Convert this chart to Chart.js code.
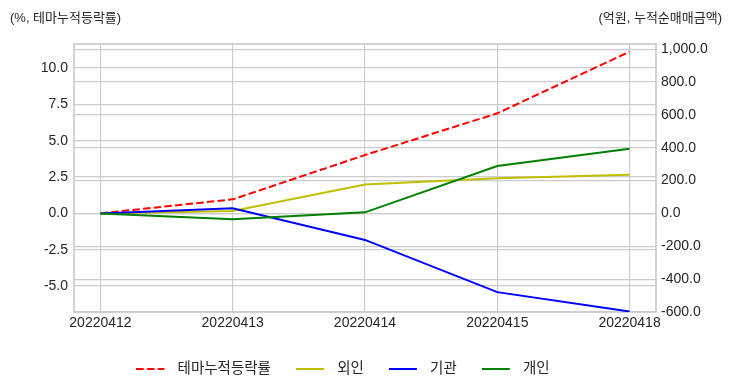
<!DOCTYPE html>
<html><head><meta charset="utf-8">
<script src="https://cdn.jsdelivr.net/npm/chart.js@4.4.0/dist/chart.umd.min.js"></script>
<style>
html,body{margin:0;padding:0;background:#fff;}
#wrap{position:relative;width:732px;height:392px;}
canvas{display:block;}
.hdr{position:absolute;top:7px;font-size:13px;font-family:'Liberation Sans','Noto Sans CJK KR',sans-serif;color:#262626;white-space:nowrap;}
</style></head><body>
<div id="wrap">
<canvas id="c" width="732" height="392"></canvas>
<div class="hdr" id="hl" style="left:10px"></div>
<div class="hdr" id="hr" style="right:10px"></div>
</div>
<script>
const dates = ['20220412', '20220413', '20220414', '20220415', '20220418'];
const themeReturn = [0, 0.96, 4.01, 6.88, 11.12];
const foreign = [0, 15, 177, 214, 236];
const institution = [0, 32, -161, -479, -597];
const individual = [0, -35, 7, 289, 394];
const seriesNames = ['테마누적등락률', '외인', '기관', '개인'];
const leftTicks = [-5, -2.5, 0, 2.5, 5, 7.5, 10];
const rightTicks = [-600, -400, -200, 0, 200, 400, 600, 800, 1000];
const leftTitle = '(%, 테마누적등락률)';
const rightTitle = '(억원, 누적순매매금액)';

document.getElementById('hl').textContent = leftTitle;
document.getElementById('hr').textContent = rightTitle;

const FONT = "'Liberation Sans', 'Noto Sans CJK KR', sans-serif";
Chart.defaults.font.family = FONT;
Chart.defaults.font.size = 14;
Chart.defaults.color = '#262626';

const toXY = arr => arr.map((v, i) => ({x: i, y: v}));
const GRID = '#cccccc';
const LW = 2;
const DASH = [7.5, 3.2];

function legendImg(color, dash) {
  const c = document.createElement('canvas');
  c.width = 34; c.height = 6;
  const g = c.getContext('2d');
  g.strokeStyle = color; g.lineWidth = LW;
  g.setLineDash(dash || []);
  g.beginPath(); g.moveTo(0, 3); g.lineTo(28, 3); g.stroke();
  return c;
}

const boxPlugin = {
  id: 'box',
  afterLayout(chart) {
    // matplotlib places the legend slightly left of the canvas centre
    if (chart.legend) chart.legend.right = chart.legend.right - 46;
  },
  beforeDatasetsDraw(chart) {
    const a = chart.chartArea, ctx = chart.ctx;
    ctx.save();
    ctx.strokeStyle = GRID;
    ctx.lineWidth = 1.7;
    ctx.strokeRect(a.left, a.top, a.right - a.left, a.bottom - a.top);
    ctx.restore();
  }
};

new Chart(document.getElementById('c'), {
  type: 'line',
  data: {
    datasets: [
      {label: seriesNames[0], data: toXY(themeReturn), yAxisID: 'y', borderColor: '#ff0000', backgroundColor: '#ff0000', borderDash: DASH, borderWidth: LW, order: 4, pointStyle: legendImg('#ff0000', DASH)},
      {label: seriesNames[1], data: toXY(foreign), yAxisID: 'y1', borderColor: '#bfbf00', backgroundColor: '#bfbf00', borderWidth: LW, order: 3, pointStyle: legendImg('#bfbf00')},
      {label: seriesNames[2], data: toXY(institution), yAxisID: 'y1', borderColor: '#0000ff', backgroundColor: '#0000ff', borderWidth: LW, order: 2, pointStyle: legendImg('#0000ff')},
      {label: seriesNames[3], data: toXY(individual), yAxisID: 'y1', borderColor: '#008000', backgroundColor: '#008000', borderWidth: LW, order: 1, pointStyle: legendImg('#008000')}
    ]
  },
  options: {
    responsive: false,
    animation: false,
    devicePixelRatio: 1,
    elements: {point: {radius: 0, hoverRadius: 0}, line: {tension: 0, fill: false}},
    layout: {padding: {top: 44, bottom: 5.75, left: 0, right: 0}},
    plugins: {
      tooltip: {enabled: false},
      legend: {
        position: 'bottom',
        labels: {
          usePointStyle: true, pointStyleWidth: 34,
          padding: 25, font: {size: 14.5}, color: '#262626',
          sort: (a, b) => a.datasetIndex - b.datasetIndex
        }
      }
    },
    scales: {
      x: {
        type: 'linear', min: -0.2, max: 4.2,
        afterBuildTicks: s => { s.ticks = dates.map((d, i) => ({value: i})); },
        afterFit: s => { s.height = 24.75; },
        ticks: {autoSkip: false, maxRotation: 0, padding: 3, callback: v => dates[v]},
        grid: {color: GRID, lineWidth: 1.2, drawTicks: false},
        border: {display: false}
      },
      y: {
        position: 'left', min: -6.79, max: 11.65,
        afterBuildTicks: s => { s.ticks = leftTicks.map(v => ({value: v})); },
        afterFit: s => { s.width = 74; },
        ticks: {autoSkip: false, padding: 6, callback: v => v.toFixed(1)},
        grid: {color: GRID, lineWidth: 1.2, drawTicks: false},
        border: {display: false}
      },
      y1: {
        position: 'right', min: -600, max: 1032,
        afterBuildTicks: s => { s.ticks = rightTicks.map(v => ({value: v})); },
        afterFit: s => { s.width = 76; },
        ticks: {autoSkip: false, padding: 5, callback: v => v.toLocaleString('en-US', {minimumFractionDigits: 1, maximumFractionDigits: 1})},
        grid: {color: GRID, lineWidth: 1.2, drawTicks: false},
        border: {display: false}
      }
    }
  },
  plugins: [boxPlugin]
});
</script>
</body></html>
